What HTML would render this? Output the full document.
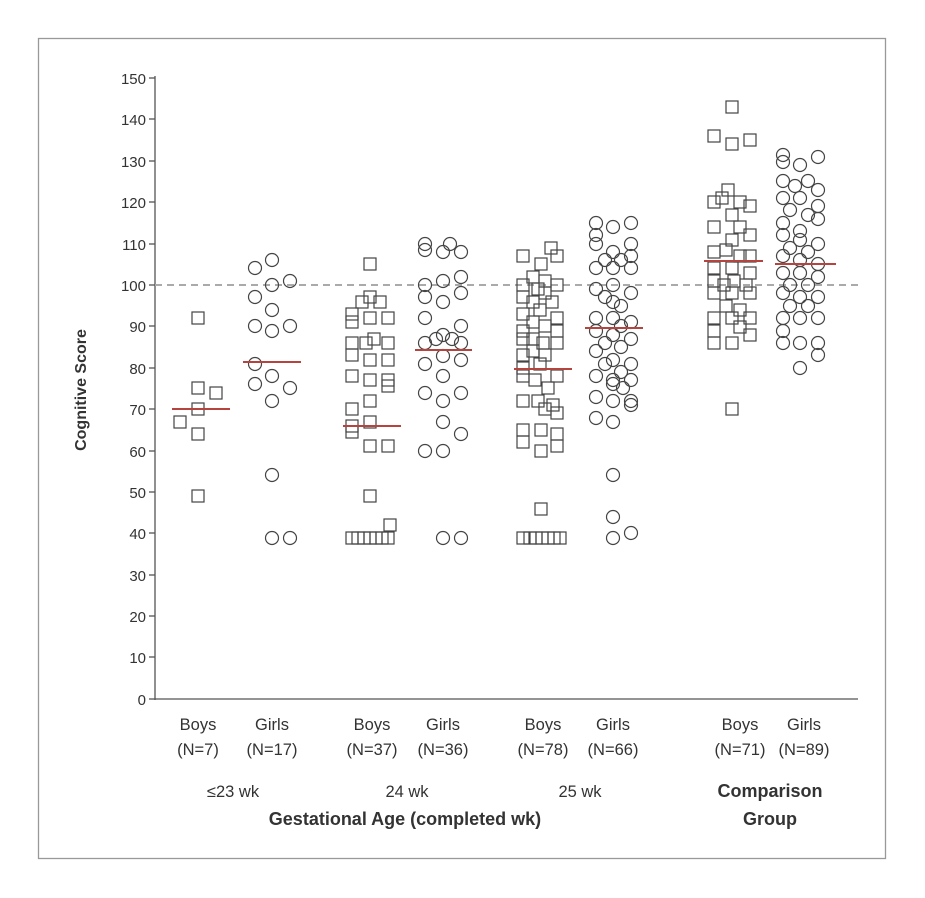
<!DOCTYPE html>
<html><head><meta charset="utf-8"><style>
html,body{margin:0;padding:0;background:#fff;width:925px;height:898px;overflow:hidden}
svg{display:block}
text{font-family:"Liberation Sans Narrow","Liberation Sans",sans-serif;fill:#333}
</style></head><body>
<svg width="925" height="898" viewBox="0 0 925 898">
<defs>
<rect id="s" x="-6" y="-6" width="12" height="12" fill="none" stroke="#444" stroke-width="1.2"/>
<circle id="c" r="6.5" fill="none" stroke="#444" stroke-width="1.2"/>
</defs>
<rect x="38.5" y="38.5" width="847" height="820" fill="none" stroke="#999" stroke-width="1.3"/>
<line x1="155" y1="76" x2="155" y2="700" stroke="#555" stroke-width="1.3"/>
<line x1="155" y1="699" x2="858" y2="699" stroke="#555" stroke-width="1.3"/>
<line x1="155" y1="285" x2="858" y2="285" stroke="#aaa" stroke-width="2" stroke-dasharray="7,5"/>
<g stroke="#555" stroke-width="1.3">
<line x1="149" y1="78" x2="155" y2="78"/><line x1="149" y1="119" x2="155" y2="119"/><line x1="149" y1="161" x2="155" y2="161"/><line x1="149" y1="202" x2="155" y2="202"/><line x1="149" y1="244" x2="155" y2="244"/><line x1="149" y1="285" x2="155" y2="285"/><line x1="149" y1="326" x2="155" y2="326"/><line x1="149" y1="368" x2="155" y2="368"/><line x1="149" y1="409" x2="155" y2="409"/><line x1="149" y1="451" x2="155" y2="451"/><line x1="149" y1="492" x2="155" y2="492"/><line x1="149" y1="533" x2="155" y2="533"/><line x1="149" y1="575" x2="155" y2="575"/><line x1="149" y1="616" x2="155" y2="616"/><line x1="149" y1="657" x2="155" y2="657"/><line x1="149" y1="699" x2="155" y2="699"/>
</g>
<g font-size="15" text-anchor="end">
<text x="146" y="84">150</text><text x="146" y="125">140</text><text x="146" y="167">130</text><text x="146" y="208">120</text><text x="146" y="250">110</text><text x="146" y="291">100</text><text x="146" y="332">90</text><text x="146" y="374">80</text><text x="146" y="415">70</text><text x="146" y="457">60</text><text x="146" y="498">50</text><text x="146" y="539">40</text><text x="146" y="581">30</text><text x="146" y="622">20</text><text x="146" y="663">10</text><text x="146" y="705">0</text>
</g>
<text x="86" y="390" font-size="16" font-weight="bold" text-anchor="middle" transform="rotate(-90 86 390)">Cognitive Score</text>
<g font-size="16.5" text-anchor="middle">
<text x="198" y="730">Boys</text><text x="272" y="730">Girls</text>
<text x="198" y="755">(N=7)</text><text x="272" y="755">(N=17)</text>
<text x="372" y="730">Boys</text><text x="443" y="730">Girls</text>
<text x="372" y="755">(N=37)</text><text x="443" y="755">(N=36)</text>
<text x="543" y="730">Boys</text><text x="613" y="730">Girls</text>
<text x="543" y="755">(N=78)</text><text x="613" y="755">(N=66)</text>
<text x="740" y="730">Boys</text><text x="804" y="730">Girls</text>
<text x="740" y="755">(N=71)</text><text x="804" y="755">(N=89)</text>
<text x="233" y="797">≤23 wk</text><text x="407" y="797">24 wk</text><text x="580" y="797">25 wk</text>
</g>
<g font-size="18" font-weight="bold" text-anchor="middle">
<text x="405" y="825">Gestational Age (completed wk)</text>
<text x="770" y="797">Comparison</text><text x="770" y="825">Group</text>
</g>
<g>
<use href="#s" x="198" y="318"/><use href="#s" x="198" y="388"/><use href="#s" x="216" y="393"/><use href="#s" x="198" y="409"/><use href="#s" x="180" y="422"/><use href="#s" x="198" y="434"/><use href="#s" x="198" y="496"/>
</g>
<g>
<use href="#c" x="272" y="260"/><use href="#c" x="255" y="268"/><use href="#c" x="290" y="281"/><use href="#c" x="272" y="285"/><use href="#c" x="255" y="297"/><use href="#c" x="272" y="310"/><use href="#c" x="255" y="326"/><use href="#c" x="272" y="331"/><use href="#c" x="290" y="326"/><use href="#c" x="255" y="364"/><use href="#c" x="272" y="376"/><use href="#c" x="255" y="384"/><use href="#c" x="290" y="388"/><use href="#c" x="272" y="401"/><use href="#c" x="272" y="475"/><use href="#c" x="272" y="538"/><use href="#c" x="290" y="538"/>
</g>
<g>
<use href="#s" x="370" y="264"/><use href="#s" x="370" y="297"/><use href="#s" x="362" y="302"/><use href="#s" x="380" y="302"/><use href="#s" x="352" y="314"/><use href="#s" x="352" y="322"/><use href="#s" x="370" y="318"/><use href="#s" x="388" y="318"/><use href="#s" x="352" y="343"/><use href="#s" x="366" y="343"/><use href="#s" x="374" y="339"/><use href="#s" x="388" y="343"/><use href="#s" x="352" y="355"/><use href="#s" x="370" y="360"/><use href="#s" x="388" y="360"/><use href="#s" x="352" y="376"/><use href="#s" x="370" y="380"/><use href="#s" x="388" y="380"/><use href="#s" x="388" y="386"/><use href="#s" x="370" y="401"/><use href="#s" x="352" y="409"/><use href="#s" x="370" y="422"/><use href="#s" x="352" y="426"/><use href="#s" x="352" y="432"/><use href="#s" x="370" y="446"/><use href="#s" x="388" y="446"/><use href="#s" x="370" y="496"/><use href="#s" x="390" y="525"/>
<use href="#s" x="352" y="538"/><use href="#s" x="358" y="538"/><use href="#s" x="364" y="538"/><use href="#s" x="370" y="538"/><use href="#s" x="376" y="538"/><use href="#s" x="382" y="538"/><use href="#s" x="388" y="538"/>
</g>
<g>
<use href="#c" x="425" y="244"/><use href="#c" x="425" y="250"/><use href="#c" x="450" y="244"/><use href="#c" x="443" y="252"/><use href="#c" x="461" y="252"/><use href="#c" x="425" y="285"/><use href="#c" x="443" y="281"/><use href="#c" x="461" y="277"/><use href="#c" x="425" y="297"/><use href="#c" x="443" y="302"/><use href="#c" x="461" y="293"/><use href="#c" x="425" y="318"/><use href="#c" x="461" y="326"/><use href="#c" x="425" y="343"/><use href="#c" x="436" y="339"/><use href="#c" x="443" y="335"/><use href="#c" x="452" y="339"/><use href="#c" x="461" y="343"/><use href="#c" x="425" y="364"/><use href="#c" x="443" y="356"/><use href="#c" x="461" y="360"/><use href="#c" x="443" y="376"/><use href="#c" x="425" y="393"/><use href="#c" x="461" y="393"/><use href="#c" x="443" y="401"/><use href="#c" x="443" y="422"/><use href="#c" x="461" y="434"/><use href="#c" x="425" y="451"/><use href="#c" x="443" y="451"/><use href="#c" x="443" y="538"/><use href="#c" x="461" y="538"/>
</g>
<g>
<use href="#s" x="523" y="256"/><use href="#s" x="551" y="248"/><use href="#s" x="557" y="256"/><use href="#s" x="541" y="264"/><use href="#s" x="533" y="277"/><use href="#s" x="545" y="281"/><use href="#s" x="523" y="285"/><use href="#s" x="538" y="289"/><use href="#s" x="557" y="285"/><use href="#s" x="545" y="293"/><use href="#s" x="523" y="297"/><use href="#s" x="533" y="302"/><use href="#s" x="552" y="302"/><use href="#s" x="540" y="310"/><use href="#s" x="523" y="314"/><use href="#s" x="557" y="318"/><use href="#s" x="533" y="322"/><use href="#s" x="545" y="326"/><use href="#s" x="523" y="331"/><use href="#s" x="557" y="331"/><use href="#s" x="523" y="339"/><use href="#s" x="533" y="339"/><use href="#s" x="543" y="343"/><use href="#s" x="557" y="343"/><use href="#s" x="533" y="351"/><use href="#s" x="545" y="355"/><use href="#s" x="523" y="355"/><use href="#s" x="540" y="364"/><use href="#s" x="523" y="376"/><use href="#s" x="557" y="376"/><use href="#s" x="535" y="380"/><use href="#s" x="523" y="368"/><use href="#s" x="548" y="388"/><use href="#s" x="523" y="401"/><use href="#s" x="538" y="401"/><use href="#s" x="553" y="405"/><use href="#s" x="545" y="409"/><use href="#s" x="557" y="413"/><use href="#s" x="523" y="430"/><use href="#s" x="541" y="430"/><use href="#s" x="557" y="434"/><use href="#s" x="523" y="442"/><use href="#s" x="541" y="451"/><use href="#s" x="557" y="446"/><use href="#s" x="541" y="509"/>
<use href="#s" x="523" y="538"/><use href="#s" x="530" y="538"/><use href="#s" x="536" y="538"/><use href="#s" x="542" y="538"/><use href="#s" x="548" y="538"/><use href="#s" x="554" y="538"/><use href="#s" x="560" y="538"/>
</g>
<g>
<use href="#c" x="596" y="223"/><use href="#c" x="596" y="235"/><use href="#c" x="596" y="244"/><use href="#c" x="613" y="227"/><use href="#c" x="631" y="223"/><use href="#c" x="631" y="244"/><use href="#c" x="613" y="252"/><use href="#c" x="605" y="260"/><use href="#c" x="621" y="260"/><use href="#c" x="631" y="256"/><use href="#c" x="596" y="268"/><use href="#c" x="613" y="268"/><use href="#c" x="631" y="268"/><use href="#c" x="596" y="289"/><use href="#c" x="613" y="285"/><use href="#c" x="631" y="293"/><use href="#c" x="605" y="297"/><use href="#c" x="613" y="302"/><use href="#c" x="621" y="306"/><use href="#c" x="596" y="318"/><use href="#c" x="613" y="318"/><use href="#c" x="631" y="322"/><use href="#c" x="621" y="326"/><use href="#c" x="596" y="331"/><use href="#c" x="613" y="335"/><use href="#c" x="631" y="339"/><use href="#c" x="605" y="343"/><use href="#c" x="621" y="347"/><use href="#c" x="596" y="351"/><use href="#c" x="613" y="360"/><use href="#c" x="613" y="380"/><use href="#c" x="605" y="364"/><use href="#c" x="631" y="364"/><use href="#c" x="596" y="376"/><use href="#c" x="621" y="372"/><use href="#c" x="631" y="380"/><use href="#c" x="613" y="384"/><use href="#c" x="623" y="388"/><use href="#c" x="596" y="397"/><use href="#c" x="613" y="401"/><use href="#c" x="631" y="401"/><use href="#c" x="631" y="405"/><use href="#c" x="596" y="418"/><use href="#c" x="613" y="422"/><use href="#c" x="613" y="475"/><use href="#c" x="613" y="517"/><use href="#c" x="613" y="538"/><use href="#c" x="631" y="533"/>
</g>
<g>
<use href="#s" x="732" y="107"/><use href="#s" x="714" y="136"/><use href="#s" x="732" y="144"/><use href="#s" x="750" y="140"/><use href="#s" x="728" y="190"/><use href="#s" x="714" y="202"/><use href="#s" x="722" y="198"/><use href="#s" x="740" y="202"/><use href="#s" x="750" y="206"/><use href="#s" x="732" y="215"/><use href="#s" x="714" y="227"/><use href="#s" x="740" y="227"/><use href="#s" x="750" y="235"/><use href="#s" x="732" y="240"/><use href="#s" x="714" y="252"/><use href="#s" x="726" y="250"/><use href="#s" x="740" y="256"/><use href="#s" x="750" y="256"/><use href="#s" x="714" y="268"/><use href="#s" x="732" y="268"/><use href="#s" x="750" y="273"/><use href="#s" x="714" y="281"/><use href="#s" x="724" y="285"/><use href="#s" x="734" y="281"/><use href="#s" x="746" y="285"/><use href="#s" x="714" y="293"/><use href="#s" x="732" y="293"/><use href="#s" x="750" y="293"/><use href="#s" x="726" y="306"/><use href="#s" x="740" y="310"/><use href="#s" x="714" y="318"/><use href="#s" x="732" y="318"/><use href="#s" x="750" y="318"/><use href="#s" x="714" y="331"/><use href="#s" x="740" y="327"/><use href="#s" x="750" y="335"/><use href="#s" x="714" y="343"/><use href="#s" x="732" y="343"/><use href="#s" x="732" y="409"/>
</g>
<g>
<use href="#c" x="783" y="155"/><use href="#c" x="783" y="162"/><use href="#c" x="800" y="165"/><use href="#c" x="818" y="157"/><use href="#c" x="783" y="181"/><use href="#c" x="795" y="186"/><use href="#c" x="808" y="181"/><use href="#c" x="818" y="190"/><use href="#c" x="783" y="198"/><use href="#c" x="800" y="198"/><use href="#c" x="818" y="206"/><use href="#c" x="790" y="210"/><use href="#c" x="808" y="215"/><use href="#c" x="783" y="223"/><use href="#c" x="800" y="231"/><use href="#c" x="818" y="219"/><use href="#c" x="783" y="235"/><use href="#c" x="800" y="240"/><use href="#c" x="818" y="244"/><use href="#c" x="790" y="248"/><use href="#c" x="808" y="252"/><use href="#c" x="783" y="256"/><use href="#c" x="800" y="260"/><use href="#c" x="818" y="264"/><use href="#c" x="783" y="273"/><use href="#c" x="800" y="273"/><use href="#c" x="818" y="277"/><use href="#c" x="790" y="285"/><use href="#c" x="808" y="285"/><use href="#c" x="783" y="293"/><use href="#c" x="800" y="297"/><use href="#c" x="818" y="297"/><use href="#c" x="790" y="306"/><use href="#c" x="808" y="306"/><use href="#c" x="783" y="318"/><use href="#c" x="800" y="318"/><use href="#c" x="818" y="318"/><use href="#c" x="783" y="331"/><use href="#c" x="783" y="343"/><use href="#c" x="800" y="343"/><use href="#c" x="818" y="343"/><use href="#c" x="818" y="355"/><use href="#c" x="800" y="368"/>
</g>
<g stroke="#b5443f" stroke-width="2">
<line x1="172" y1="409" x2="230" y2="409"/>
<line x1="243" y1="362" x2="301" y2="362"/>
<line x1="343" y1="426" x2="401" y2="426"/>
<line x1="415" y1="350" x2="472" y2="350"/>
<line x1="514" y1="369" x2="572" y2="369"/>
<line x1="585" y1="328" x2="643" y2="328"/>
<line x1="704" y1="261" x2="763" y2="261"/>
<line x1="775" y1="264" x2="836" y2="264"/>
</g>
</svg>
</body></html>
